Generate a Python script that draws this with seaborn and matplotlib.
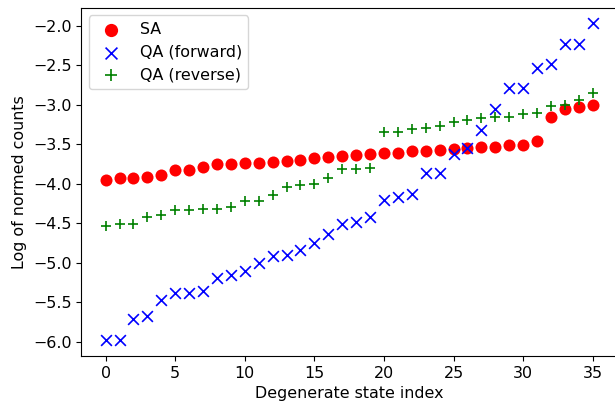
import numpy as np
import pandas as pd
import matplotlib
matplotlib.use("Agg")
import matplotlib.pyplot as plt
import seaborn as sns

state_index = list(range(36))
sa = [-3.95, -3.935, -3.935, -3.91, -3.885, -3.83, -3.825, -3.79, -3.75, -3.75,
      -3.74, -3.74, -3.72, -3.71, -3.70, -3.67, -3.66, -3.65, -3.64, -3.62,
      -3.61, -3.61, -3.59, -3.59, -3.58, -3.56, -3.55, -3.54, -3.53, -3.51,
      -3.51, -3.46, -3.15, -3.06, -3.03, -3.01]
qa_forward = [-5.98, -5.98, -5.72, -5.68, -5.47, -5.39, -5.38, -5.36, -5.19, -5.16,
              -5.11, -5.01, -4.92, -4.90, -4.84, -4.75, -4.64, -4.51, -4.49, -4.42,
              -4.21, -4.17, -4.13, -3.87, -3.87, -3.63, -3.55, -3.32, -3.06, -2.79,
              -2.79, -2.54, -2.48, -2.23, -2.23, -1.97]
qa_reverse = [-4.54, -4.51, -4.51, -4.42, -4.40, -4.34, -4.34, -4.32, -4.32, -4.29,
              -4.22, -4.22, -4.14, -4.04, -4.02, -4.00, -3.93, -3.82, -3.82, -3.80,
              -3.34, -3.34, -3.31, -3.30, -3.27, -3.22, -3.20, -3.17, -3.16, -3.15,
              -3.12, -3.11, -3.02, -3.01, -2.94, -2.85]
labels = ["SA", "QA (forward)", "QA (reverse)"]

plt.rcParams.update(plt.rcParamsDefault)
plt.rcParams['font.family'] = ['DejaVu Sans']

fig = plt.figure(figsize=(6.15, 4.04), dpi=100)
ax = fig.add_axes([81.3/615, 1-355.8/404, (617-81.3)/615, (355.8-7.5)/404])

sns.scatterplot(x=state_index, y=sa, ax=ax, marker='o', color='red', s=75,
                linewidth=0, label=labels[0])
sns.scatterplot(x=state_index, y=qa_forward, ax=ax, marker='x', color='blue', s=60,
                linewidth=1.2, label=labels[1])
sns.scatterplot(x=state_index, y=qa_reverse, ax=ax, marker='+', color='green', s=60,
                linewidth=1.2, label=labels[2])

fs = 11.4
ax.set_xlim(-1.75, 36.75)
ax.set_ylim(-6.1805, -1.7695)
ax.set_xticks([0, 5, 10, 15, 20, 25, 30, 35])
ax.set_yticks([-6.0, -5.5, -5.0, -4.5, -4.0, -3.5, -3.0, -2.5, -2.0])
ax.tick_params(labelsize=fs)
ax.set_xlabel("Degenerate state index", fontsize=fs)
ax.set_ylabel("Log of normed counts", fontsize=fs)
ax.legend(loc='upper left', fontsize=fs, scatterpoints=1, markerscale=1.1)

fig.savefig("out.png", dpi=100)
